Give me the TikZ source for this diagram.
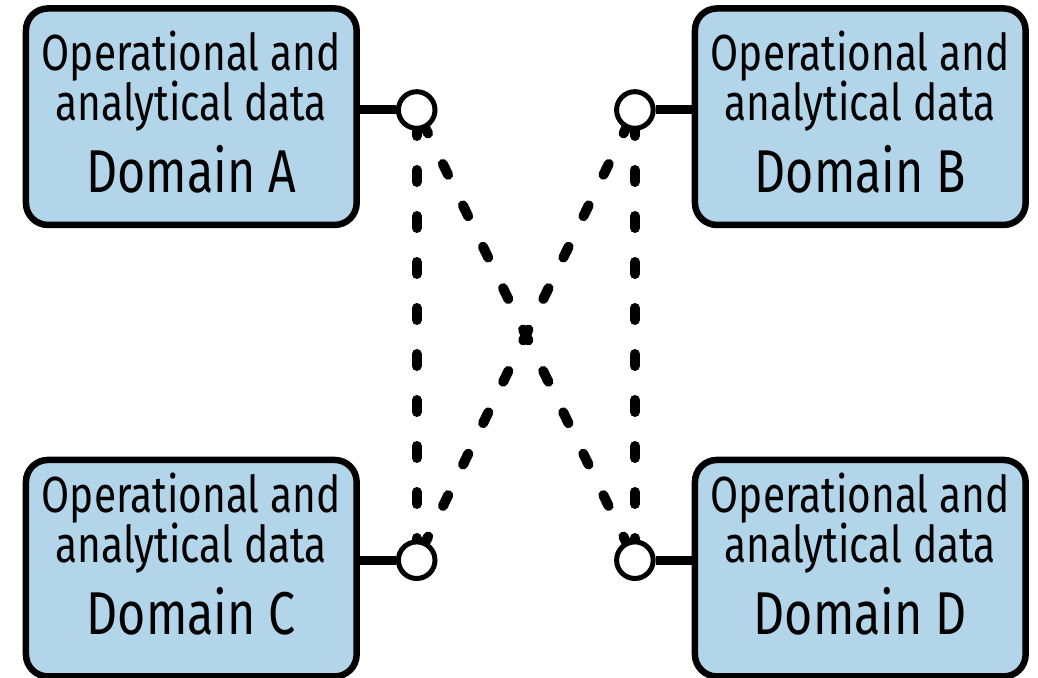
\documentclass[tikz,border=0pt]{standalone}
\usepackage{fontspec}
\setmainfont{Fira Sans}[FakeStretch=0.8]
\usepackage{xcolor}
\usetikzlibrary{positioning,backgrounds}
\definecolor{domainblue}{HTML}{B3D5EA}
\newcommand{\domfont}{\fontsize{14.45pt}{14.2pt}\selectfont\lineskiplimit=-20pt\relax}
\newcommand{\namefont}{\fontsize{17.2pt}{14.2pt}\selectfont}

\begin{document}
\begin{tikzpicture}[x=1cm, y=1cm]
    \tikzstyle{domainbox} = [rectangle, draw=black, line width=0.065cm, fill=domainblue, rounded corners=0.22cm, minimum width=3.307cm, minimum height=2.165cm, align=center, inner sep=0pt, text depth=0pt, font=\domfont]
    \tikzstyle{portcircle} = [circle, draw=black, line width=0.05cm, fill=white, minimum size=0.366cm, inner sep=0pt]
    \tikzstyle{stubline} = [draw, line width=0.09cm]
    \tikzstyle{linkline} = [draw, line width=0.1cm, line cap=round, dash pattern=on 0.12cm off 0.34cm, dash phase=0.32cm]

    \useasboundingbox (0,0) rectangle (10.38,6.78);

    % domains
    \node [domainbox, text height=1.526cm] (domA) at (1.913,5.613) {Operational and\\analytical data\\[0.23cm]{\namefont Domain A}};
    \node [domainbox, text height=1.526cm] (domB) at (8.603,5.613) {Operational and\\analytical data\\[0.23cm]{\namefont Domain B}};
    \node [domainbox, text height=1.335cm] (domC) at (1.913,1.098) {Operational and\\analytical data\\[0.23cm]{\namefont Domain C}};
    \node [domainbox, text height=1.335cm] (domD) at (8.603,1.098) {Operational and\\analytical data\\[0.23cm]{\namefont Domain D}};

    % ports
    \node [portcircle, right=0.36cm of domA, yshift=0.067cm] (portA) {};
    \node [portcircle, left=0.36cm of domB, yshift=0.067cm] (portB) {};
    \node [portcircle, right=0.36cm of domC, yshift=0.08cm] (portC) {};
    \node [portcircle, left=0.36cm of domD, yshift=0.08cm] (portD) {};

    \draw [stubline] (portA.west -| domA.east) -- (portA.west);
    \draw [stubline] (portB.east -| domB.west) -- (portB.east);
    \draw [stubline] (portC.west -| domC.east) -- (portC.west);
    \draw [stubline] (portD.east -| domD.west) -- (portD.east);

    % dashed links behind the ports
    \begin{pgfonlayer}{background}
        \draw [linkline] (portA.center) -- (portC.center);
        \draw [linkline] (portA.center) -- (portD.center);
        \draw [linkline] (portB.center) -- (portC.center);
        \draw [linkline] (portB.center) -- (portD.center);
    \end{pgfonlayer}
\end{tikzpicture}
\end{document}
